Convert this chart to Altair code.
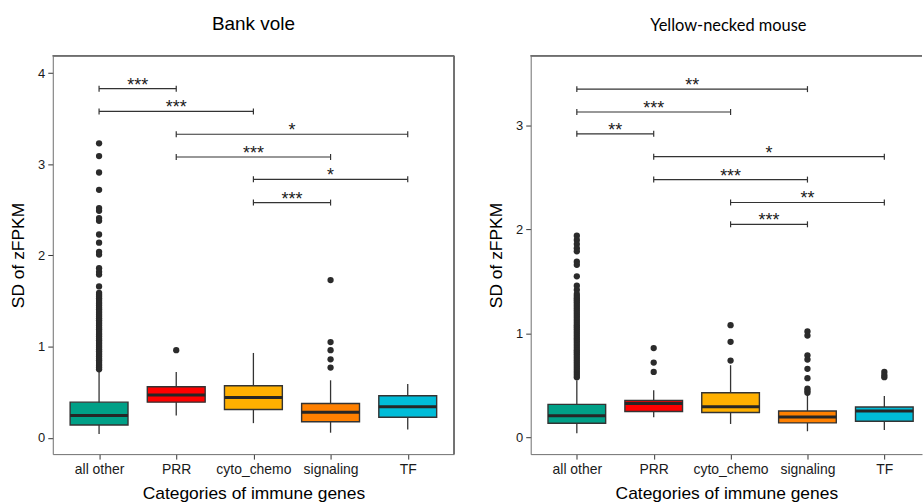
import json
import altair as alt
import pandas as pd

CATEGORIES = ["all other", "PRR", "cyto_chemo", "signaling", "TF"]
COLORS = ["#00A087", "#FF0000", "#FFB000", "#FF8000", "#00BCD8"]

# ---------------- Bank vole ----------------
BV_Q1 = [0.14, 0.39, 0.31, 0.175, 0.225]
BV_MED = [0.245, 0.47, 0.44, 0.28, 0.34]
BV_Q3 = [0.39, 0.56, 0.57, 0.375, 0.46]
BV_LO = [0.04, 0.245, 0.16, 0.055, 0.09]
BV_HI = [0.73, 0.72, 0.93, 0.63, 0.59]
BV_OUT_ALL = [3.23, 3.09, 2.91, 2.72, 2.52, 2.49, 2.41, 2.38, 2.23, 2.14, 2.04, 2.01,
              1.86, 1.82, 1.79, 1.66, 1.59, 1.57, 1.55, 1.53, 1.51, 1.49, 1.47, 1.45,
              1.43, 1.41, 1.39, 1.37, 1.35, 1.33, 1.31, 1.29, 1.27, 1.25, 1.23, 1.21,
              1.19, 1.17, 1.15, 1.13, 1.11, 1.09, 1.07, 1.05, 1.03, 1.01, 0.99, 0.97,
              0.95, 0.93, 0.91, 0.89, 0.87, 0.85, 0.83, 0.81, 0.79, 0.77, 0.75]
BV_OUT_PRR = [0.96]
BV_OUT_CYTO = []
BV_OUT_SIG = [1.73, 1.05, 0.96, 0.86, 0.77]
BV_OUT_TF = []
BV_SIG_FROM = ["all other", "all other", "PRR", "PRR", "cyto_chemo", "cyto_chemo"]
BV_SIG_TO = ["PRR", "cyto_chemo", "TF", "signaling", "TF", "signaling"]
BV_SIG_Y = [3.83, 3.58, 3.33, 3.08, 2.835, 2.58]
BV_SIG_LABEL = ["***", "***", "*", "***", "*", "***"]
BV_YTICKS = [0, 1, 2, 3, 4]

# ---------------- Yellow-necked mouse ----------------
YN_Q1 = [0.137, 0.25, 0.24, 0.14, 0.156]
YN_MED = [0.21, 0.327, 0.296, 0.198, 0.255]
YN_Q3 = [0.318, 0.356, 0.43, 0.255, 0.293]
YN_LO = [0.04, 0.195, 0.13, 0.06, 0.073]
YN_HI = [0.55, 0.455, 0.695, 0.42, 0.40]
YN_OUT_ALL = [1.94, 1.90, 1.86, 1.82, 1.79, 1.69, 1.66, 1.55, 1.46, 1.42,
              1.38, 1.36, 1.34, 1.32, 1.30, 1.28, 1.26, 1.24, 1.22, 1.20, 1.18,
              1.16, 1.14, 1.12, 1.10, 1.08, 1.06, 1.04, 1.02, 1.00, 0.98, 0.96,
              0.94, 0.92, 0.90, 0.88, 0.86, 0.84, 0.82, 0.80, 0.78, 0.76, 0.74,
              0.72, 0.70, 0.68, 0.66, 0.64, 0.62, 0.60, 0.58]
YN_OUT_PRR = [0.86, 0.72, 0.63]
YN_OUT_CYTO = [1.08, 0.92, 0.74]
YN_OUT_SIG = [1.02, 0.98, 0.79, 0.75, 0.66, 0.57, 0.47, 0.45, 0.43]
YN_OUT_TF = [0.63, 0.60, 0.58]
YN_SIG_FROM = ["all other", "all other", "all other", "PRR", "PRR", "cyto_chemo", "cyto_chemo"]
YN_SIG_TO = ["signaling", "cyto_chemo", "PRR", "TF", "signaling", "TF", "signaling"]
YN_SIG_Y = [3.35, 3.13, 2.92, 2.70, 2.48, 2.26, 2.05]
YN_SIG_LABEL = ["**", "***", "**", "*", "***", "**", "***"]
YN_YTICKS = [0, 1, 2, 3]

FONT = "Liberation Sans"
FRAME = "#6e6e6e"
DARK = "#333333"
LABEL_EXPR = json.dumps(CATEGORIES) + "[datum.value - 1]"


def panel(title, title_font, title_size, title_dx, q1, med, q3, lo, hi, outs,
          sfrom, sto, sy, slab, ydom, yticks, width, xmax, height=400):
    pos = {c: i + 1 for i, c in enumerate(CATEGORIES)}
    box_df = pd.DataFrame({
        "cat": CATEGORIES, "pos": [pos[c] for c in CATEGORIES],
        "q1": q1, "med": med, "q3": q3, "lo": lo, "hi": hi,
    })
    out_rows = []
    for c, vals in zip(CATEGORIES, outs):
        for v in vals:
            out_rows.append({"cat": c, "pos": pos[c], "v": v})
    out_df = pd.DataFrame(out_rows)
    sig_df = pd.DataFrame({
        "a": [pos[c] for c in sfrom], "b": [pos[c] for c in sto],
        "y": sy, "lab": slab,
    })

    xs = alt.Scale(domain=[0.4, xmax], nice=False, zero=False)
    ys = alt.Scale(domain=ydom, nice=False, zero=False)
    xaxis = alt.Axis(values=[1, 2, 3, 4, 5], labelExpr=LABEL_EXPR, grid=False,
                     title="Categories of immune genes", titleFontSize=17.5,
                     titleFontWeight="normal", titleColor="black", titlePadding=9,
                     labelFontSize=14, labelColor="#1a1a1a", labelPadding=3,
                     tickSize=5, tickColor=DARK, domainColor=FRAME, labelFlush=False,
                     labelOverlap=False)
    yaxis = alt.Axis(values=yticks, grid=False, title="SD of zFPKM", titleFontSize=17.5,
                     titleFontWeight="normal", titleColor="black", titlePadding=10,
                     labelFontSize=13, labelColor="#1a1a1a", labelPadding=3,
                     tickSize=5, tickColor=DARK, domainColor=FRAME, format="d")

    def X(f):
        return alt.X(f, type="quantitative", scale=xs, axis=xaxis)

    def Y(f):
        return alt.Y(f, type="quantitative", scale=ys, axis=yaxis)

    base_box = alt.Chart(box_df).transform_calculate(
        xl="datum.pos - 0.375", xr="datum.pos + 0.375")
    whisk = base_box.mark_rule(color=DARK, strokeWidth=1.3).encode(
        x=X("pos"), y=Y("lo"), y2="hi")
    boxes = base_box.mark_rect(stroke=DARK, strokeWidth=1.4).encode(
        x=X("xl"), x2="xr", y=Y("q1"), y2="q3",
        color=alt.Color("cat:N", scale=alt.Scale(domain=CATEGORIES, range=COLORS), legend=None))
    meds = base_box.mark_rule(color="#262626", strokeWidth=3).encode(
        x=X("xl"), x2="xr", y=Y("med"))
    pts = alt.Chart(out_df).mark_circle(size=40, color="#2b2b2b", opacity=1).encode(
        x=X("pos"), y=Y("v"))
    sig_base = alt.Chart(sig_df).transform_calculate(mid="(datum.a + datum.b) / 2")
    hl = sig_base.mark_rule(color=DARK, strokeWidth=1.2).encode(
        x=X("a"), x2="b", y=Y("y"))
    e1 = sig_base.mark_rule(color=DARK, strokeWidth=1.2, yOffset=-3, y2Offset=3).encode(
        x=X("a"), y=Y("y"), y2="y")
    e2 = sig_base.mark_rule(color=DARK, strokeWidth=1.2, yOffset=-3, y2Offset=3).encode(
        x=X("b"), y=Y("y"), y2="y")
    txt = sig_base.mark_text(font=FONT, fontSize=18, baseline="alphabetic", dy=2,
                             color="#1a1a1a").encode(x=X("mid"), y=Y("y"), text="lab:N")
    top = alt.Chart(box_df).mark_rule(color=FRAME, strokeWidth=1).encode(
        x=alt.value(0), x2=alt.value(width), y=alt.value(0))
    layers = [top, whisk, boxes, meds, pts, hl, e1, e2, txt]
    if xmax >= 5.6:
        right = alt.Chart(box_df).mark_rule(color=FRAME, strokeWidth=1).encode(
            x=alt.value(width), y=alt.value(0), y2=alt.value(height))
        layers.append(right)
    return alt.layer(*layers).properties(
        width=width, height=height,
        title=alt.TitleParams(title, font=title_font, fontSize=title_size, fontWeight="normal",
                              anchor="middle", offset=21, color="black", dx=title_dx))


left = panel("Bank vole", FONT, 19, 0, BV_Q1, BV_MED, BV_Q3, BV_LO, BV_HI,
             [BV_OUT_ALL, BV_OUT_PRR, BV_OUT_CYTO, BV_OUT_SIG, BV_OUT_TF],
             BV_SIG_FROM, BV_SIG_TO, BV_SIG_Y, BV_SIG_LABEL,
             [-0.18, 4.19], BV_YTICKS, 403, 5.6)
right = panel("Yellow-necked mouse", "Lato", 16.5, 2, YN_Q1, YN_MED, YN_Q3, YN_LO, YN_HI,
              [YN_OUT_ALL, YN_OUT_PRR, YN_OUT_CYTO, YN_OUT_SIG, YN_OUT_TF],
              YN_SIG_FROM, YN_SIG_TO, YN_SIG_Y, YN_SIG_LABEL,
              [-0.16, 3.67], YN_YTICKS, 393, 5.49)

chart = alt.hconcat(left, right, spacing=32).configure(
    font=FONT, padding={"left": 9, "top": 14, "right": 0, "bottom": 0}
).configure_view(strokeWidth=0)

chart.save("out.html", embed_options={"renderer": "svg", "actions": False})
